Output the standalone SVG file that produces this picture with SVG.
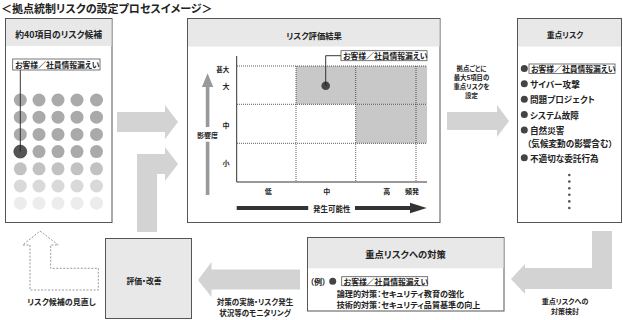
<svg xmlns="http://www.w3.org/2000/svg" width="623" height="320" viewBox="0 0 623 320">
<style>
text{font-family:"Noto Sans CJK JP","Noto Sans",sans-serif;font-feature-settings:"palt";font-weight:700;fill:#222;dominant-baseline:central}
.box{fill:#fff;stroke:#555;stroke-width:1}
.hdr{fill:#e8e8e8}
.h{font-size:9px;text-anchor:middle}
.s{font-size:7px}
.l{font-size:7.8px}
.m{font-size:8.6px}
.b{font-size:8.1px}
.c{text-anchor:middle}
.arr{fill:#d3d3d3}
.lbl{fill:#fff;stroke:#555;stroke-width:0.8}
.dot{stroke:#333;stroke-width:0.8;stroke-dasharray:1 1;fill:none}
.n{font-size:6.4px;text-anchor:middle}
</style>
<text x="1" y="8" style="font-size:11px">＜拠点統制リスクの設定プロセスイメージ＞</text>

<g id="connectors">
<polygon class="arr" points="117,112 165,112 165,105 178,122 165,139 165,132 117,132"/>
<polygon class="arr" points="137,232 137,154 165,154 165,147 178,164 165,181 165,174 157,174 157,232"/>
<polygon class="arr" points="447,112 497,112 497,105 509,121 497,137 497,130 447,130"/>
<polygon class="arr" points="592,231 612,231 612,289 525,289 525,294 511,279 525,264 525,268 592,268"/>
<polygon class="arr" points="300,269.5 300,289.5 211.5,289.5 211.5,297 198,280 211.5,262 211.5,269.5"/>
<polygon points="40,231 58.3,245 50.7,245 50.7,268.3 98.3,268.3 98.3,290 30,290 30,245 22.7,245" fill="none" stroke="#999" stroke-width="1" stroke-dasharray="2 1.5"/>
<text class="n" x="471.5" y="68.5">拠点ごとに</text>
<text class="n" x="471.5" y="77.5">最大5項目の</text>
<text class="n" x="471.5" y="86.5">重点リスクを</text>
<text class="n" x="471.5" y="95.5">設定</text>
<text class="c" style="font-size:7px" x="565" y="300.5">重点リスクへの</text>
<text class="c" style="font-size:7px" x="565" y="310.5">対策検討</text>
<text class="c" style="font-size:7.5px" x="255" y="301.5">対策の実施・リスク発生</text>
<text class="c" style="font-size:7.5px" x="255" y="312.5">状況等のモニタリング</text>
<text class="c" style="font-size:8px" x="61.5" y="301.5">リスク候補の見直し</text>
</g>

<g id="candidates">
<rect class="box" x="5.5" y="18.5" width="106.5" height="204"/>
<rect class="hdr" x="6" y="19" width="105.5" height="27"/>
<text class="h" style="font-size:8.8px" x="58.7" y="34">約40項目のリスク候補</text>
<g fill="#aaa">
<circle cx="20.3" cy="100" r="6.5"/><circle cx="39" cy="100" r="6.5"/><circle cx="58" cy="100" r="6.5"/><circle cx="77" cy="100" r="6.5"/><circle cx="96.5" cy="100" r="6.5"/>
<circle cx="20.3" cy="117.2" r="6.5"/><circle cx="39" cy="117.2" r="6.5"/><circle cx="58" cy="117.2" r="6.5"/><circle cx="77" cy="117.2" r="6.5"/><circle cx="96.5" cy="117.2" r="6.5"/>
<circle cx="20.3" cy="134.4" r="6.5"/><circle cx="39" cy="134.4" r="6.5"/><circle cx="58" cy="134.4" r="6.5"/><circle cx="77" cy="134.4" r="6.5"/><circle cx="96.5" cy="134.4" r="6.5"/>
<circle cx="39" cy="151.6" r="6.5"/><circle cx="58" cy="151.6" r="6.5"/><circle cx="77" cy="151.6" r="6.5"/><circle cx="96.5" cy="151.6" r="6.5"/>
</g>
<g fill="#c2c2c2">
<circle cx="20.3" cy="168.8" r="6.5"/><circle cx="39" cy="168.8" r="6.5"/><circle cx="58" cy="168.8" r="6.5"/><circle cx="77" cy="168.8" r="6.5"/><circle cx="96.5" cy="168.8" r="6.5"/>
</g>
<g fill="#d9d9d9">
<circle cx="20.3" cy="186" r="6.5"/><circle cx="39" cy="186" r="6.5"/><circle cx="58" cy="186" r="6.5"/><circle cx="77" cy="186" r="6.5"/><circle cx="96.5" cy="186" r="6.5"/>
</g>
<g fill="#ececec">
<circle cx="20.3" cy="203.2" r="6.5"/><circle cx="39" cy="203.2" r="6.5"/><circle cx="58" cy="203.2" r="6.5"/><circle cx="77" cy="203.2" r="6.5"/><circle cx="96.5" cy="203.2" r="6.5"/>
</g>
<circle cx="20.3" cy="151.6" r="6.5" fill="#555" stroke="#333" stroke-width="0.6"/>
<line x1="20.3" y1="70" x2="20.3" y2="151.6" stroke="#222" stroke-width="0.9"/>
<rect class="lbl" x="12.7" y="59" width="87.3" height="11"/>
<text class="l" x="15" y="64.5">お客様／社員情報漏えい</text>
</g>

<g id="evaluation">
<rect class="box" x="187.5" y="18.5" width="252.5" height="204"/>
<rect class="hdr" x="188" y="19" width="251.5" height="27.5"/>
<text class="h" style="font-size:8.3px" x="314" y="35">リスク評価結果</text>
<rect x="296" y="66" width="131" height="38.3" fill="#c8c8c8"/>
<rect x="355.7" y="104.3" width="71.3" height="39" fill="#c8c8c8"/>
<path class="dot" d="M237 66H427M237 104.3H427M237 143.3H427M296 66V182M355.7 66V182M416 66V182"/>
<path d="M236.7 56V182H427" fill="none" stroke="#333" stroke-width="1"/>
<circle cx="325.7" cy="85.7" r="4.3" fill="#444"/>
<path d="M325.7 85.7V55.7H341" fill="none" stroke="#222" stroke-width="0.9"/>
<rect class="lbl" x="341" y="50.7" width="86" height="10"/>
<text class="l" x="343" y="55.7">お客様／社員情報漏えい</text>
<text class="c" style="font-size:6.5px" x="222.7" y="69">甚大</text>
<text class="s c" x="226" y="86">大</text>
<text class="s c" x="226" y="125">中</text>
<text class="s c" x="226" y="163">小</text>
<polygon points="207.6,73.3 213.3,87 209.4,87 209.4,127 205.8,127 205.8,87 201.9,87" fill="#999"/>
<rect x="205.8" y="141.7" width="3.6" height="53.3" fill="#999"/>
<text class="s c" x="207.5" y="134.5">影響度</text>
<text class="s c" x="268.3" y="191">低</text>
<text class="s c" x="326.7" y="191">中</text>
<text class="s c" x="386.7" y="191">高</text>
<text class="s c" x="412" y="191">頻発</text>
<rect x="236.7" y="206" width="71.5" height="4" fill="#333"/>
<polygon points="355,206 410,206 410,202.7 426.7,208 410,213.3 410,210 355,210" fill="#333"/>
<text class="c" style="font-size:7.5px" x="331.7" y="208">発生可能性</text>
</g>

<g id="key-risks">
<rect class="box" x="517.5" y="18.5" width="104" height="204"/>
<rect class="hdr" x="518" y="19" width="103" height="27.5"/>
<text class="h" style="font-size:7.8px" x="565" y="34">重点リスク</text>
<g fill="#444">
<circle cx="524.3" cy="68.5" r="3.5"/>
<circle cx="524.3" cy="83.8" r="3.5"/>
<circle cx="524.3" cy="99.3" r="3.5"/>
<circle cx="524.3" cy="114.5" r="3.5"/>
<circle cx="524.3" cy="130" r="3.5"/>
<circle cx="524.3" cy="157.7" r="3.5"/>
</g>
<rect class="lbl" x="529" y="64" width="86" height="9.5"/>
<text class="l" x="531" y="68.7">お客様／社員情報漏えい</text>
<text class="m" x="530" y="83.8">サイバー攻撃</text>
<text class="m" x="530" y="99.3">問題プロジェクト</text>
<text class="m" x="530" y="114.5">システム故障</text>
<text class="m" x="530" y="130">自然災害</text>
<text class="m" x="527" y="142.6">（気候変動の影響含む）</text>
<text class="m" x="530" y="157.7">不適切な委託行為</text>
<g fill="#555">
<circle cx="569.3" cy="175" r="1.3"/><circle cx="569.3" cy="181.6" r="1.3"/><circle cx="569.3" cy="188.2" r="1.3"/><circle cx="569.3" cy="194.8" r="1.3"/><circle cx="569.3" cy="201.4" r="1.3"/><circle cx="569.3" cy="208" r="1.3"/>
</g>
</g>

<g id="countermeasures">
<rect class="box" x="307.5" y="237.5" width="196.5" height="73.5"/>
<rect class="hdr" x="308" y="238" width="195.5" height="30.3"/>
<text class="h" style="font-size:9.3px" x="405.5" y="254">重点リスクへの対策</text>
<text class="b" x="310" y="281.3">（例）</text>
<circle cx="332.7" cy="281.2" r="3.5" fill="#444"/>
<rect class="lbl" x="341.7" y="276.7" width="86" height="9"/>
<text class="l" x="343.7" y="281.2">お客様／社員情報漏えい</text>
<text class="b" x="336.7" y="293.4">論理的対策：セキュリティ教育の強化</text>
<text class="b" x="336.7" y="304.4">技術的対策：セキュリティ品質基準の向上</text>
</g>

<g id="review">
<rect x="105.5" y="238.5" width="86" height="80" fill="#e8e8e8" stroke="#555" stroke-width="1"/>
<text class="h" style="font-size:7.8px" x="144" y="280">評価・改善</text>
</g>
</svg>
